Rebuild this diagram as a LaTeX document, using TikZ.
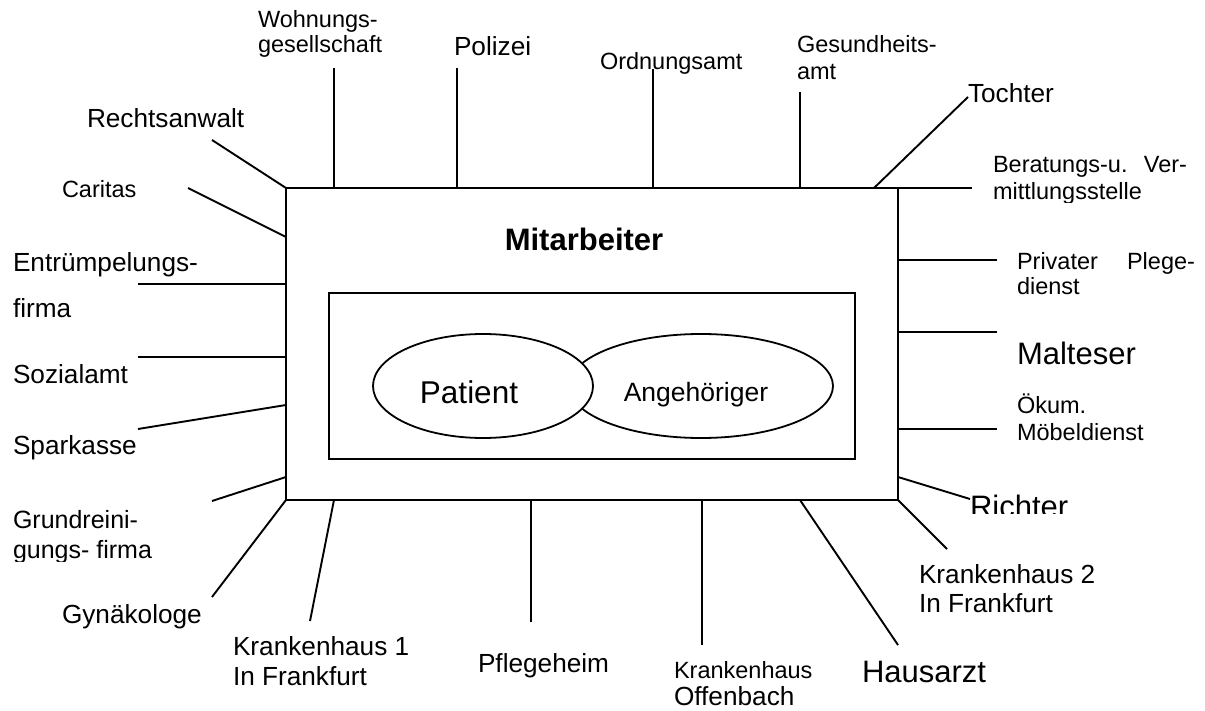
\documentclass[tikz,border=0pt]{standalone}
\usepackage{fontspec}
\setmainfont{Liberation Sans}
\usetikzlibrary{shapes.geometric}
\newcommand\lblpair[3]{\vtop{\baselineskip=#1pt\lineskiplimit=-1000pt\relax\hbox{#2}\hbox{#3}}}
\tikzset{
  lbl/.style={inner sep=0, outer sep=0, anchor=base west, font=\fontsize{26.2}{30}\selectfont},
  lbls/.style={lbl, font=\fontsize{23.5}{27}\selectfont},
  lblb/.style={lbl, font=\fontsize{31}{35}\selectfont},
  spoke/.style={line width=1.9pt},
  frame/.style={draw, line width=2pt, outer sep=0, inner sep=0},
  oval/.style={draw, ellipse, line width=1.8pt, outer sep=0, inner sep=0, fill=white},
}
\begin{document}
\begin{tikzpicture}[x=1pt,y=-1pt]
\useasboundingbox (0,0) rectangle (1205,711);
\fill[white] (0,0) rectangle (1205,711);

% central structure
\node[frame, minimum width=612pt, minimum height=312pt] (box) at (592,344) {};
\node[frame, line width=1.9pt, minimum width=526pt, minimum height=166pt] (inner) at (592,376) {};
\node[oval, minimum width=264pt, minimum height=104pt] (angE) at (701,386) {};
\node[oval, minimum width=220pt, minimum height=104pt] (patE) at (483,386) {};
\node[inner sep=0, anchor=base, font=\bfseries\fontsize{31}{35}\selectfont] (mit) at (584,251) {Mitarbeiter};
\node[inner sep=0, anchor=base, font=\fontsize{31.5}{35}\selectfont] (pat) at (469,403) {Patient};
\node[inner sep=0, anchor=base, font=\fontsize{26.5}{30}\selectfont] (ang) at (696,401) {Angehöriger};

% free ends of connectors
\coordinate (cR) at (212,140);
\coordinate (cC) at (188,188);
\coordinate (cW) at (334,68);
\coordinate (cP) at (457,68);
\coordinate (cO) at (653,69);
\coordinate (cG) at (800,92);
\coordinate (cT) at (968,97);
\coordinate (cB) at (972,188);
\coordinate (cPr) at (997,260);
\coordinate (cM) at (997,332);
\coordinate (cOk) at (997,429);
\coordinate (cRi) at (970,499);
\coordinate (cK2) at (947,549);
\coordinate (cH) at (898,645);
\coordinate (cKO) at (702,645);
\coordinate (cPf) at (531,622);
\coordinate (cK1) at (310,621);
\coordinate (cGy) at (212,597);
\coordinate (cGr) at (212,501);
\coordinate (cSp) at (138,429);
\coordinate (cSo) at (138,357);
\coordinate (cE) at (138,284);

% connectors
\draw[spoke] (cR) -- (box.north west);
\draw[spoke] (cC) -- ([yshift=-49pt]box.north west);
\draw[spoke] (cW) -- (cW |- box.north);
\draw[spoke] (cP) -- (cP |- box.north);
\draw[spoke] (cO) -- (cO |- box.north);
\draw[spoke] (cG) -- (cG |- box.north);
\draw[spoke] (cT) -- ([xshift=-24pt]box.north east);
\draw[spoke] (box.north east) -- (cB);
\draw[spoke] (cPr) -- (cPr -| box.east);
\draw[spoke] (cM) -- (cM -| box.east);
\draw[spoke] (cOk) -- (cOk -| box.east);
\draw[spoke] ([yshift=23pt]box.south east) -- (cRi);
\draw[spoke] (box.south east) -- (cK2);
\draw[spoke] ([xshift=-98pt]box.south east) -- (cH);
\draw[spoke] (cKO) -- (cKO |- box.south);
\draw[spoke] (cPf) -- (cPf |- box.south);
\draw[spoke] ([xshift=48pt]box.south west) -- (cK1);
\draw[spoke] (box.south west) -- (cGy);
\draw[spoke] ([yshift=23pt]box.south west) -- (cGr);
\draw[spoke] ([yshift=95pt]box.south west) -- (cSp);
\draw[spoke] (cSo) -- (cSo -| box.west);
\draw[spoke] (cE) -- (cE -| box.west);

% labels
\node[lbls] (wohn) at (258,28) {\lblpair{25}{Wohnungs-}{gesellschaft}};
\node[lbl] (pol) at (454,56) {Polizei};
\node[lbls] (ord) at (600,70) {Ordnungsamt};
\node[lbls] (ges) at (797,53) {\lblpair{27}{Gesundheits-}{amt}};
\node[lbl] (recht) at (87,128) {Rechtsanwalt};
\node[lbls] (car) at (62,198) {Caritas};
\node[lbl] (toch) at (968,103) {Tochter};
\begin{scope}
\clip (900,0) rectangle (1205,203);
\node[lbls] (ber) at (993,173) {\lblpair{27}{\hbox to 194pt{Beratungs-u.\hfill Ver-}}{mittlungsstelle}};
\end{scope}
\node[lbls] (priv) at (1017,270) {\lblpair{25}{\hbox to 178pt{Privater\hfill Plege-}}{dienst}};
\node[lblb] (malt) at (1017,364) {Malteser};
\node[lbls] (oek) at (1017,413) {\lblpair{27}{Ökum.}{Möbeldienst}};
\begin{scope}
\clip (900,460) rectangle (1205,513);
\node[lblb] (richt) at (970,517) {Richter};
\end{scope}
\node[lbl] (kh2) at (919,583) {\lblpair{29}{Krankenhaus 2}{In Frankfurt}};
\node[lblb] (haus) at (862,682) {Hausarzt};
\node[lbl] (kho) at (674,678) {\lblpair{27}{\fontsize{23.5}{27}\selectfont Krankenhaus}{Offenbach}};
\node[lbl] (pfl) at (478,672) {Pflegeheim};
\node[lbl] (kh1) at (233,655) {\lblpair{30}{Krankenhaus 1}{In Frankfurt}};
\node[lbl] (gyn) at (62,623) {Gynäkologe};
\begin{scope}
\clip (0,500) rectangle (280,561);
\node[lbl, font=\fontsize{25}{29}\selectfont] (grund) at (13,528) {\lblpair{30}{Grundreini-}{gungs- firma}};
\end{scope}
\node[lbl] (spar) at (13,454) {Sparkasse};
\node[lbl] (sozi) at (13,383) {Sozialamt};
\node[lbl] (entr) at (13,272) {\lblpair{46}{Entrümpelungs-}{firma}};
\end{tikzpicture}
\end{document}
